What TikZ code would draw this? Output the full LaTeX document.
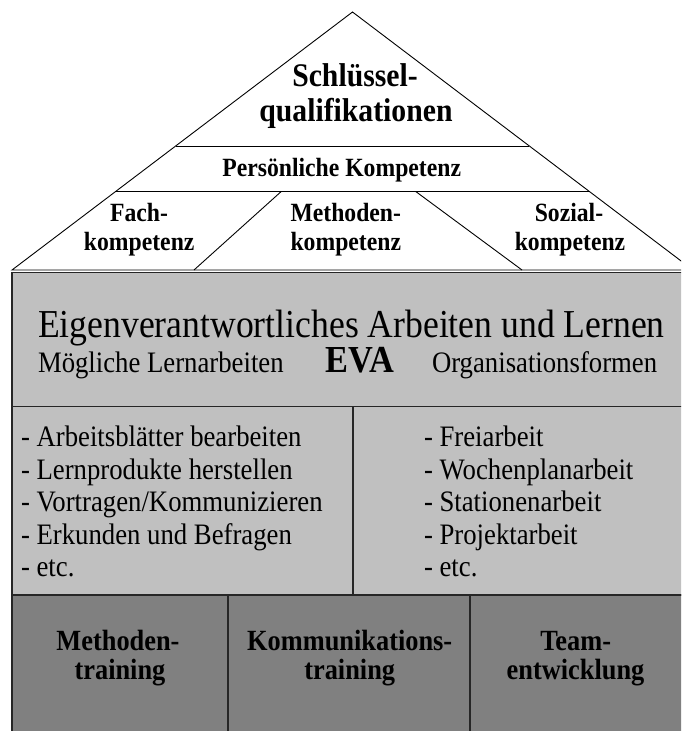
\documentclass[tikz,border=0pt]{standalone}
\usepackage{fontspec}
\setmainfont[FakeStretch=0.9]{Liberation Serif}
\definecolor{lightgrey}{HTML}{C0C0C0}
\definecolor{darkgrey}{HTML}{808080}
\newcommand\fsTop{\fontsize{33}{38}\selectfont\bfseries}
\newcommand\fsMid{\fontsize{26.3}{30}\selectfont\bfseries}
\newcommand\fsBot{\fontsize{29.3}{33}\selectfont\bfseries}
\newcommand\fsBig{\fontsize{39.6}{44}\selectfont}
\newcommand\fsReg{\fontsize{29.7}{34}\selectfont}
\newcommand\fsEva{\fontsize{38.2}{44}\selectfont\bfseries}
\begin{document}
\begin{tikzpicture}[x=1pt,y=-1pt,
  thinline/.style={draw=black,line width=0.9pt},
  boxline/.style={draw=black!85,line width=1.2pt},
  lbl/.style={inner sep=0pt,outer sep=0pt,anchor=base},
  lblw/.style={inner sep=0pt,outer sep=0pt,anchor=base west}]
\useasboundingbox (0,0) rectangle (681,731);
\clip (0,0) rectangle (681,731);
\fill[white] (0,0) rectangle (681,731);
% roof
\coordinate (apex) at (352.5,12);
\coordinate (bl) at (12,270);
\coordinate (br) at (693,270);
\draw[thinline] (bl) -- (apex) -- (br) -- cycle;
\draw[thinline] (175.7,146) -- (529.3,146);
\draw[thinline] (115.3,191.7) -- (589.7,191.7);
\draw[thinline] (281,191.7) -- (194,270);
\draw[thinline] (416,191.7) -- (522,270);
% middle box
\draw[boxline,fill=lightgrey] (12,272.5) rectangle (695,595);
\draw[boxline] (12,406.5) -- (695,406.5);
\draw[boxline] (353,406.5) -- (353,595);
% bottom box
\draw[boxline,fill=darkgrey] (12,595) rectangle (695,740);
\draw[boxline] (228,595) -- (228,740);
\draw[boxline] (470,595) -- (470,740);
% roof texts
\node[lbl] (sq1) at (355,86) {\fsTop Schlüssel-};
\node[lbl] (sq2) at (356,121) {\fsTop qualifikationen};
\node[lbl] (pk) at (341.7,176.7) {\fsMid Persönliche Kompetenz};
\node[lbl] (fk1) at (139,221.7) {\fsMid Fach-};
\node[lbl] (fk2) at (139.2,250.5) {\fsMid kompetenz};
\node[lbl] (mk1) at (345.8,221.7) {\fsMid Methoden-};
\node[lbl] (mk2) at (345.8,250.5) {\fsMid kompetenz};
\node[lbl] (sk1) at (569,221.7) {\fsMid Sozial-};
\node[lbl] (sk2) at (570,250.5) {\fsMid kompetenz};
% EVA texts
\node[lbl] (evatitle) at (351.4,337) {\fsBig Eigenverantwortliches Arbeiten und Lernen};
\node[lblw] (ml) at (38,372.3) {\fsReg Mögliche Lernarbeiten};
\node[lbl] (eva) at (360,372.3) {\fsEva EVA};
\node[lblw] (of) at (432,372.3) {\fsReg Organisationsformen};
% left list
\node[lblw] (la1) at (21,446.5) {\fsReg - Arbeitsblätter bearbeiten};
\node[lblw] (la2) at (21,479) {\fsReg - Lernprodukte herstellen};
\node[lblw] (la3) at (21,511.5) {\fsReg - Vortragen/Kommunizieren};
\node[lblw] (la4) at (21,544) {\fsReg - Erkunden und Befragen};
\node[lblw] (la5) at (21,576.5) {\fsReg - etc.};
% right list
\node[lblw] (ra1) at (424,446.5) {\fsReg - Freiarbeit};
\node[lblw] (ra2) at (424,479) {\fsReg - Wochenplanarbeit};
\node[lblw] (ra3) at (424,511.5) {\fsReg - Stationenarbeit};
\node[lblw] (ra4) at (424,544) {\fsReg - Projektarbeit};
\node[lblw] (ra5) at (424,576.5) {\fsReg - etc.};
% bottom texts
\node[lbl] (mt1) at (118,650) {\fsBot Methoden-};
\node[lbl] (mt2) at (120,679) {\fsBot training};
\node[lbl] (kt1) at (349.7,650) {\fsBot Kommunikations-};
\node[lbl] (kt2) at (349.7,679) {\fsBot training};
\node[lbl] (te1) at (575.7,650) {\fsBot Team-};
\node[lbl] (te2) at (575.5,679) {\fsBot entwicklung};
\end{tikzpicture}
\end{document}
